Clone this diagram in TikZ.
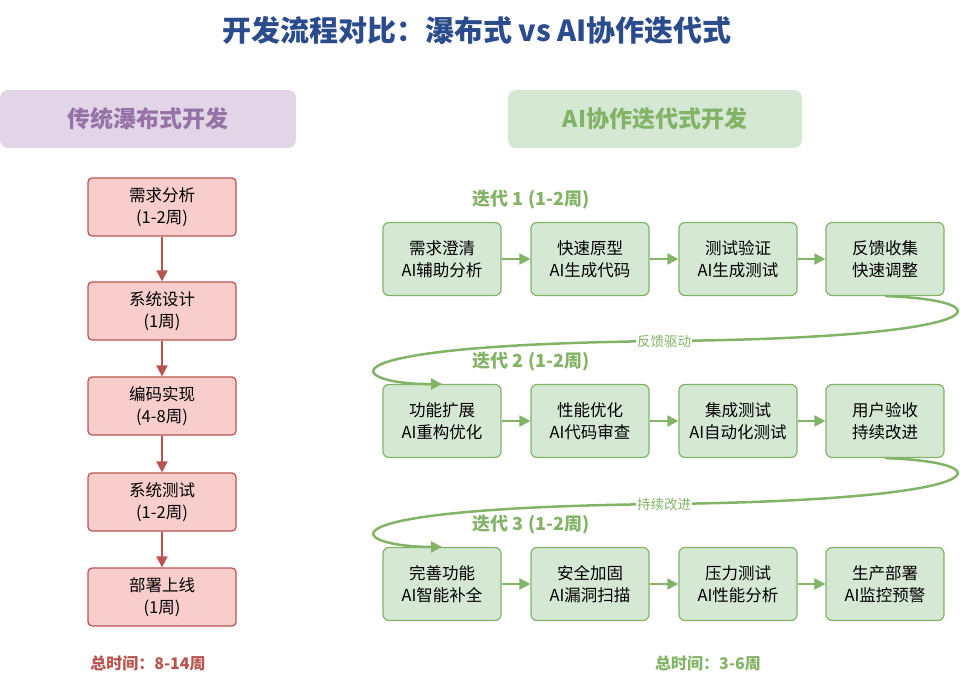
\documentclass[tikz,border=0pt]{standalone}
\usepackage{fontspec}
\setmainfont{Noto Sans CJK SC}
\usetikzlibrary{arrows.meta,positioning}
\definecolor{wfFill}{HTML}{F8CECC}
\definecolor{wfLine}{HTML}{B85450}
\definecolor{aiFill}{HTML}{D5E8D4}
\definecolor{aiLine}{HTML}{82B366}
\definecolor{hdPurple}{HTML}{E1D5E7}
\definecolor{txPurple}{HTML}{9673A6}
\definecolor{ttlBlue}{HTML}{2B4C8C}
\tikzset{
	wf/.style={draw=wfLine,fill=wfFill,rounded corners=4pt,minimum width=148pt,minimum height=58pt,align=center,font=\fontsize{16.5}{22}\selectfont,line width=1.2pt},
	ai/.style={draw=aiLine,fill=aiFill,rounded corners=6pt,minimum width=118pt,minimum height=73pt,align=center,font=\fontsize{16.5}{22}\selectfont,line width=1.2pt},
	wfarr/.style={-{Triangle[length=11pt,width=11pt]},wfLine,line width=2pt},
	aiarr/.style={-{Triangle[length=11pt,width=11pt]},aiLine,line width=2pt},
	iter/.style={font=\fontsize{18}{20}\selectfont\bfseries,text=aiLine},
	loop/.style={aiLine,line width=2.5pt,-{Triangle[length=11pt,width=11pt]}},
	lbl/.style={fill=white,inner sep=1pt,font=\fontsize{13.5}{15}\selectfont,text=aiLine}
}
\begin{document}
\begin{tikzpicture}[x=1pt,y=-1pt]
	\useasboundingbox (0,0) rectangle (960,679);
	% title
	\node[font=\fontsize{29}{32}\selectfont\bfseries,text=ttlBlue] (title) at (477,30) {开发流程对比：瀑布式 vs AI协作迭代式};
	% headers
	\node[fill=hdPurple,rounded corners=8pt,minimum width=296pt,minimum height=58pt,text=txPurple,font=\fontsize{23}{26}\selectfont\bfseries] (hdwf) at (148,119) {传统瀑布式开发};
	\node[fill=aiFill,rounded corners=8pt,minimum width=294pt,minimum height=58pt,text=aiLine,font=\fontsize{23}{26}\selectfont\bfseries] (hdai) at (655,119) {AI协作迭代式开发};
	% waterfall
	\node[wf] (w1) at (162,207) {需求分析\\(1-2周)};
	\node[wf] (w2) at (162,311) {系统设计\\(1周)};
	\node[wf] (w3) at (162,406) {编码实现\\(4-8周)};
	\node[wf] (w4) at (162,502) {系统测试\\(1-2周)};
	\node[wf] (w5) at (162,597) {部署上线\\(1周)};
	\foreach \a/\b in {w1/w2,w2/w3,w3/w4,w4/w5}
		\draw[wfarr] (\a) -- (\b);
	\node[font=\fontsize{16}{18}\selectfont\bfseries,text=wfLine] (twf) at (148,663) {总时间：8-14周};
	% iterations
	\node[iter] (it1) at (531,200) {迭代 1 (1-2周)};
	\node[iter] (it2) at (531,362) {迭代 2 (1-2周)};
	\node[iter] (it3) at (531,525) {迭代 3 (1-2周)};
	\node[ai] (a1) at (442,259) {需求澄清\\AI辅助分析};
	\node[ai] (a2) at (590,259) {快速原型\\AI生成代码};
	\node[ai] (a3) at (738,259) {测试验证\\AI生成测试};
	\node[ai] (a4) at (885,259) {反馈收集\\快速调整};
	\node[ai] (b1) at (442,421) {功能扩展\\AI重构优化};
	\node[ai] (b2) at (590,421) {性能优化\\AI代码审查};
	\node[ai] (b3) at (738,421) {集成测试\\AI自动化测试};
	\node[ai] (b4) at (885,421) {用户验收\\持续改进};
	\node[ai] (c1) at (442,584) {完善功能\\AI智能补全};
	\node[ai] (c2) at (590,584) {安全加固\\AI漏洞扫描};
	\node[ai] (c3) at (738,584) {压力测试\\AI性能分析};
	\node[ai] (c4) at (885,584) {生产部署\\AI监控预警};
	\foreach \r in {a,b,c}{
		\draw[aiarr] (\r1) -- (\r2);
		\draw[aiarr] (\r2) -- (\r3);
		\draw[aiarr] (\r3) -- (\r4);
	}
	% loops
	\draw[loop] (a4.south) .. controls (1005,300) and (1005,338) .. (664,341)
		.. controls (300,345) and (350,385) .. (b1.north);
	\node[lbl] (fb1) at (664,341) {反馈驱动};
	\draw[loop] (b4.south) .. controls (1005,462) and (1005,500) .. (664,504)
		.. controls (300,508) and (350,547) .. (c1.north);
	\node[lbl] (fb2) at (664,504) {持续改进};
	\node[font=\fontsize{16}{18}\selectfont\bfseries,text=aiLine] (tai) at (708,663) {总时间：3-6周};
\end{tikzpicture}
\end{document}
